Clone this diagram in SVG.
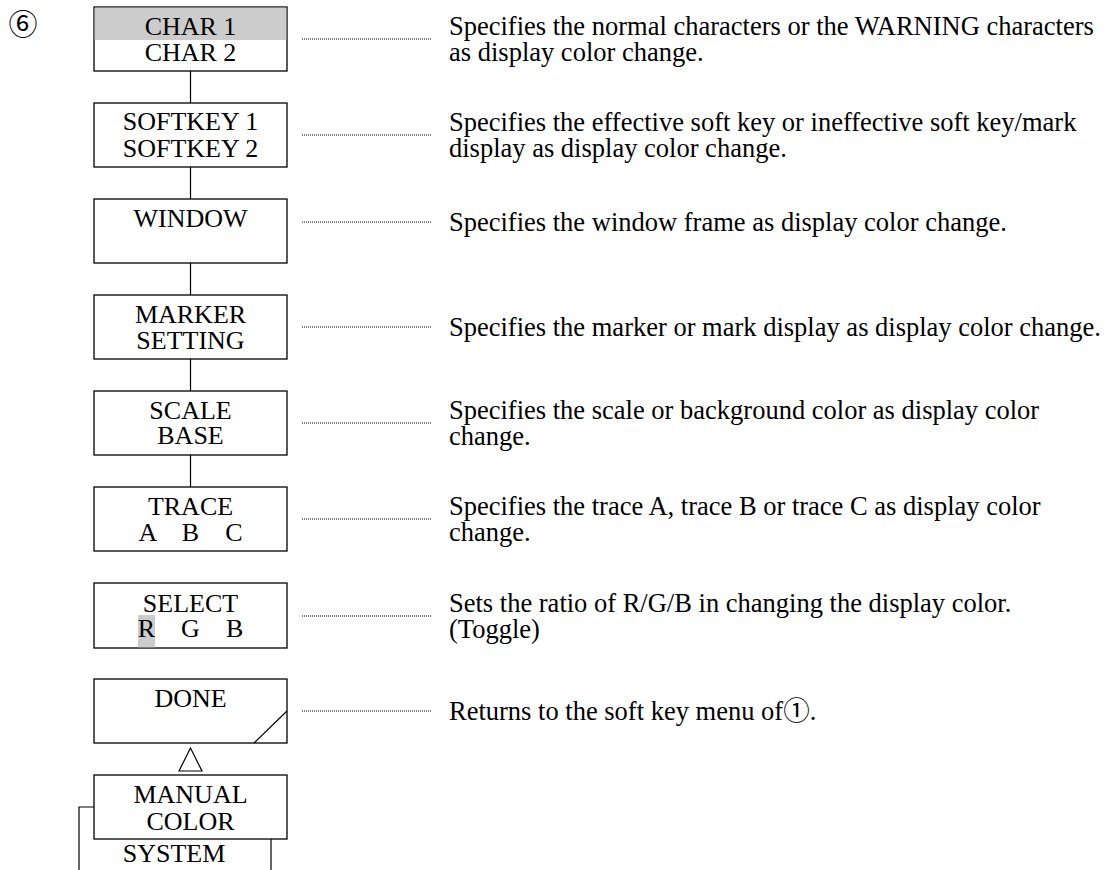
<svg xmlns="http://www.w3.org/2000/svg" width="1109" height="870" viewBox="0 0 1109 870">
<style>
.bg{fill:#ffffff}
.box{fill:#ffffff;stroke:#000000;stroke-width:1.3}
.hl{fill:#cccccc}
.ln{stroke:#000000;stroke-width:1.2;fill:none}
.dot{stroke:#000000;stroke-width:1;stroke-dasharray:1 1;fill:none}
.k{font-family:"Liberation Serif","Noto Sans CJK JP",serif;font-size:26px;fill:#000000;text-anchor:middle}
.d{font-family:"Liberation Serif","Noto Sans CJK JP",serif;font-size:26.5px;fill:#000000}
.pre{white-space:pre}
</style>
<rect class="bg" x="0" y="0" width="1109" height="870"/>
<text id="label6" x="23" y="35" style="font-family:'Liberation Serif','Noto Sans CJK JP',serif;font-size:29px;text-anchor:middle">⑥</text>

<g id="connectors">
<line class="ln" x1="190.5" y1="71" x2="190.5" y2="103"/>
<line class="ln" x1="190.5" y1="167" x2="190.5" y2="199"/>
<line class="ln" x1="190.5" y1="263" x2="190.5" y2="295"/>
<line class="ln" x1="190.5" y1="359" x2="190.5" y2="391"/>
<line class="ln" x1="190.5" y1="455" x2="190.5" y2="487"/>
<polygon class="ln" points="190.5,748 179,771 202,771"/>
<line class="dot" x1="302" y1="39" x2="431" y2="39"/>
<line class="dot" x1="302" y1="135" x2="431" y2="135"/>
<line class="dot" x1="302" y1="222" x2="431" y2="222"/>
<line class="dot" x1="302" y1="327" x2="431" y2="327"/>
<line class="dot" x1="302" y1="423" x2="431" y2="423"/>
<line class="dot" x1="302" y1="519" x2="431" y2="519"/>
<line class="dot" x1="302" y1="616" x2="431" y2="616"/>
<line class="dot" x1="302" y1="711" x2="431" y2="711"/>
</g>

<g id="node-char">
<rect class="box" x="94" y="7" width="193" height="64"/>
<rect class="hl" x="94.7" y="7.7" width="191.6" height="32.3"/>
<text class="k" x="190.5" y="35">CHAR 1</text>
<text class="k" x="190.5" y="61">CHAR 2</text>
</g>
<g id="node-softkey">
<rect class="box" x="94" y="103" width="193" height="64"/>
<text class="k" x="190.5" y="130">SOFTKEY 1</text>
<text class="k" x="190.5" y="157">SOFTKEY 2</text>
</g>
<g id="node-window">
<rect class="box" x="94" y="199" width="193" height="64"/>
<text class="k" x="190.5" y="227">WINDOW</text>
</g>
<g id="node-marker">
<rect class="box" x="94" y="295" width="193" height="64"/>
<text class="k" x="190.5" y="323">MARKER</text>
<text class="k" x="190.5" y="349">SETTING</text>
</g>
<g id="node-scale">
<rect class="box" x="94" y="391" width="193" height="64"/>
<text class="k" x="190.5" y="419">SCALE</text>
<text class="k" x="190.5" y="444">BASE</text>
</g>
<g id="node-trace">
<rect class="box" x="94" y="487" width="193" height="64"/>
<text class="k" x="190.5" y="515">TRACE</text>
<text class="k pre" x="190.5" y="541" xml:space="preserve">A    B    C</text>
</g>
<g id="node-select">
<rect class="box" x="94" y="583" width="193" height="65"/>
<rect class="hl" x="138" y="615" width="17" height="32.3"/>
<text class="k" x="190.5" y="612">SELECT</text>
<text class="k pre" x="190.5" y="637" xml:space="preserve">R    G    B</text>
</g>
<g id="node-done">
<rect class="box" x="94" y="679" width="193" height="64"/>
<line class="ln" x1="254" y1="743" x2="287" y2="711"/>
<text class="k" x="190.5" y="707">DONE</text>
</g>
<g id="node-manual">
<rect class="box" x="94" y="775" width="193" height="64"/>
<text class="k" x="190.5" y="803">MANUAL</text>
<text class="k" x="190.5" y="830">COLOR</text>
</g>
<g id="node-system">
<polyline class="ln" points="94,807 79,807 79,870"/>
<line class="ln" x1="271" y1="839" x2="271" y2="870"/>
<text class="k" x="174" y="862">SYSTEM</text>
</g>

<g id="descriptions">
<text class="d" x="449" y="35">Specifies the normal characters or the WARNING characters</text>
<text class="d" x="449" y="61">as display color change.</text>
<text class="d" x="449" y="131">Specifies the effective soft key or ineffective soft key/mark</text>
<text class="d" x="449" y="157">display as display color change.</text>
<text class="d" x="449" y="231">Specifies the window frame as display color change.</text>
<text class="d" x="449" y="336">Specifies the marker or mark display as display color change.</text>
<text class="d" x="449" y="419">Specifies the scale or background color as display color</text>
<text class="d" x="449" y="445">change.</text>
<text class="d" x="449" y="515">Specifies the trace A, trace B or trace C as display color</text>
<text class="d" x="449" y="541">change.</text>
<text class="d" x="449" y="612">Sets the ratio of R/G/B in changing the display color.</text>
<text class="d" x="449" y="638">(Toggle)</text>
<text class="d" x="449" y="720">Returns to the soft key menu of①.</text>
</g>
</svg>
